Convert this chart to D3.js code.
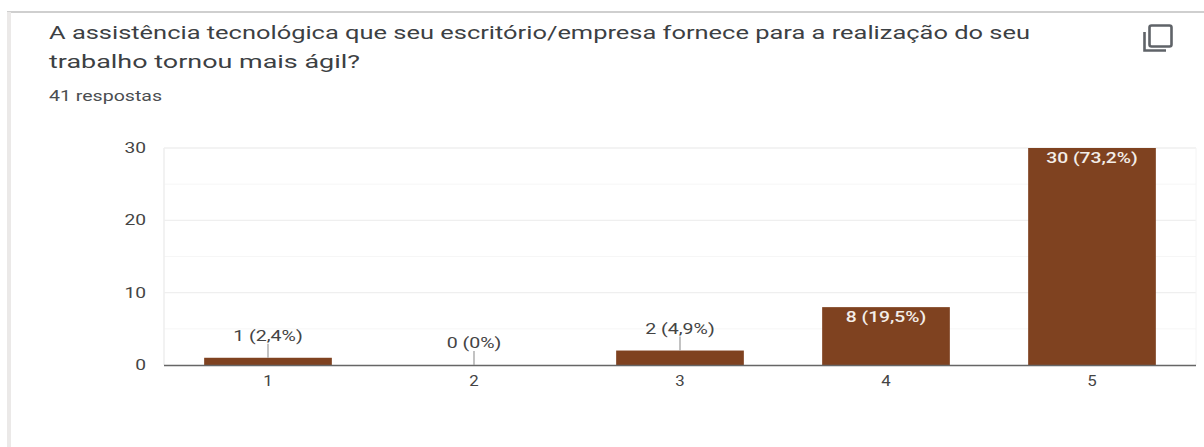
<!DOCTYPE html>
<html><head><meta charset="utf-8">
<script src="https://cdn.jsdelivr.net/npm/d3@7"></script>
<style>html,body{margin:0;padding:0;background:#fff;overflow:hidden}svg{display:block}text{font-family:Roboto,Arial,sans-serif}</style>
</head><body><svg id="c" width="1204" height="447"></svg>
<script>
const categories=["1","2","3","4","5"];
const counts=[1,0,2,8,30];
const labels=["1 (2,4%)","0 (0%)","2 (4,9%)","8 (19,5%)","30 (73,2%)"];
const yTicks=[0,10,20,30];
const yMinor=[5,15,25];
const titleLines=["A assistência tecnológica que seu escritório/empresa fornece para a realização do seu","trabalho tornou mais ágil?"];
const subtitle="41 respostas";

const svg=d3.select("#c");
function stretch(sel,f){sel.each(function(){const t=d3.select(this);t.attr("textLength",this.getComputedTextLength()*f).attr("lengthAdjust","spacingAndGlyphs");});return sel;}
// card edges
svg.append("rect").attr("x",7).attr("y",11).attr("width",1197).attr("height",2).attr("fill","#cfcfcf");
svg.append("rect").attr("x",7).attr("y",12).attr("width",4).attr("height",435).attr("fill","#ebe9e8");
// title
svg.selectAll("text.t").data(titleLines).join("text").attr("class","t")
 .attr("x",49).attr("y",(d,i)=>39+i*29).attr("font-size",19).attr("fill","#3c4043")
 .attr("textLength",(d,i)=>i==0?981:311).attr("lengthAdjust","spacingAndGlyphs").text(d=>d);
svg.append("text").attr("x",49).attr("y",101).attr("font-size",14.5).attr("fill","#4a4d50")
 .attr("textLength",113).attr("lengthAdjust","spacingAndGlyphs").text(subtitle);
// copy icon
const ic=svg.append("g").attr("fill","none").attr("stroke","#5f6368").attr("stroke-width",2.6);
ic.append("rect").attr("x",1149.5).attr("y",25.5).attr("width",22).attr("height",21).attr("rx",2);
ic.append("path").attr("d","M1144.5 32V50.5H1166");

const x=d3.scaleBand().domain(categories).range([165,1195]).paddingInner(0.385).paddingOuter(0.1925);
const y=d3.scaleLinear().domain([0,30]).range([365,148]);
const g=svg.append("g");
// grid
g.selectAll("line.mn").data(yMinor).join("line").attr("class","mn")
 .attr("x1",164).attr("x2",1196).attr("y1",d=>y(d)).attr("y2",d=>y(d)).attr("stroke","#f6f6f6");
g.selectAll("line.mj").data(yTicks.slice(1)).join("line").attr("class","mj")
 .attr("x1",164).attr("x2",1196).attr("y1",d=>y(d)).attr("y2",d=>y(d)).attr("stroke","#efefef").attr("stroke-width",1.4);
g.append("line").attr("x1",164).attr("x2",164).attr("y1",148).attr("y2",365).attr("stroke","#efefef").attr("stroke-width",1.6);
g.append("line").attr("x1",1196).attr("x2",1196).attr("y1",148).attr("y2",365).attr("stroke","#f4f4f4");
// bars
g.selectAll("rect.b").data(counts).join("rect").attr("class","b")
 .attr("x",(d,i)=>x(categories[i])-0.5).attr("width",x.bandwidth()+1)
 .attr("y",d=>y(d)).attr("height",d=>y(0)-y(d)).attr("fill","#7f4220");
// baseline
g.append("line").attr("x1",164).attr("x2",1196).attr("y1",365.5).attr("y2",365.5).attr("stroke","#666").attr("stroke-width",1.4);
// y labels
stretch(g.selectAll("text.y").data(yTicks).join("text").attr("class","y")
 .attr("x",146).attr("y",d=>y(d)+5).attr("text-anchor","end").attr("font-size",15).attr("fill","#444").text(d=>d),1.28);
// x labels
stretch(g.selectAll("text.x").data(categories).join("text").attr("class","x")
 .attr("x",d=>x(d)+x.bandwidth()/2).attr("y",386).attr("text-anchor","middle").attr("font-size",14).attr("fill","#444").text(d=>d),1.2);
// value labels
counts.forEach((v,i)=>{
 const cx=x(categories[i])+x.bandwidth()/2;
 if(v>=8){
  stretch(g.append("text").attr("x",cx).attr("y",y(v)+15).attr("text-anchor","middle").attr("font-size",14.5).attr("font-weight",500).attr("fill","#f3ede8").text(labels[i]),1.33);
 } else {
  const top=y(v)-14;
  g.append("line").attr("x1",cx).attr("x2",cx).attr("y1",y(v)).attr("y2",top).attr("stroke","#9a9a9a").attr("stroke-width",1.2);
  stretch(g.append("text").attr("x",cx).attr("y",top-3).attr("text-anchor","middle").attr("font-size",14.5).attr("fill","#444").text(labels[i]),1.35);
 }
});
</script></body></html>
